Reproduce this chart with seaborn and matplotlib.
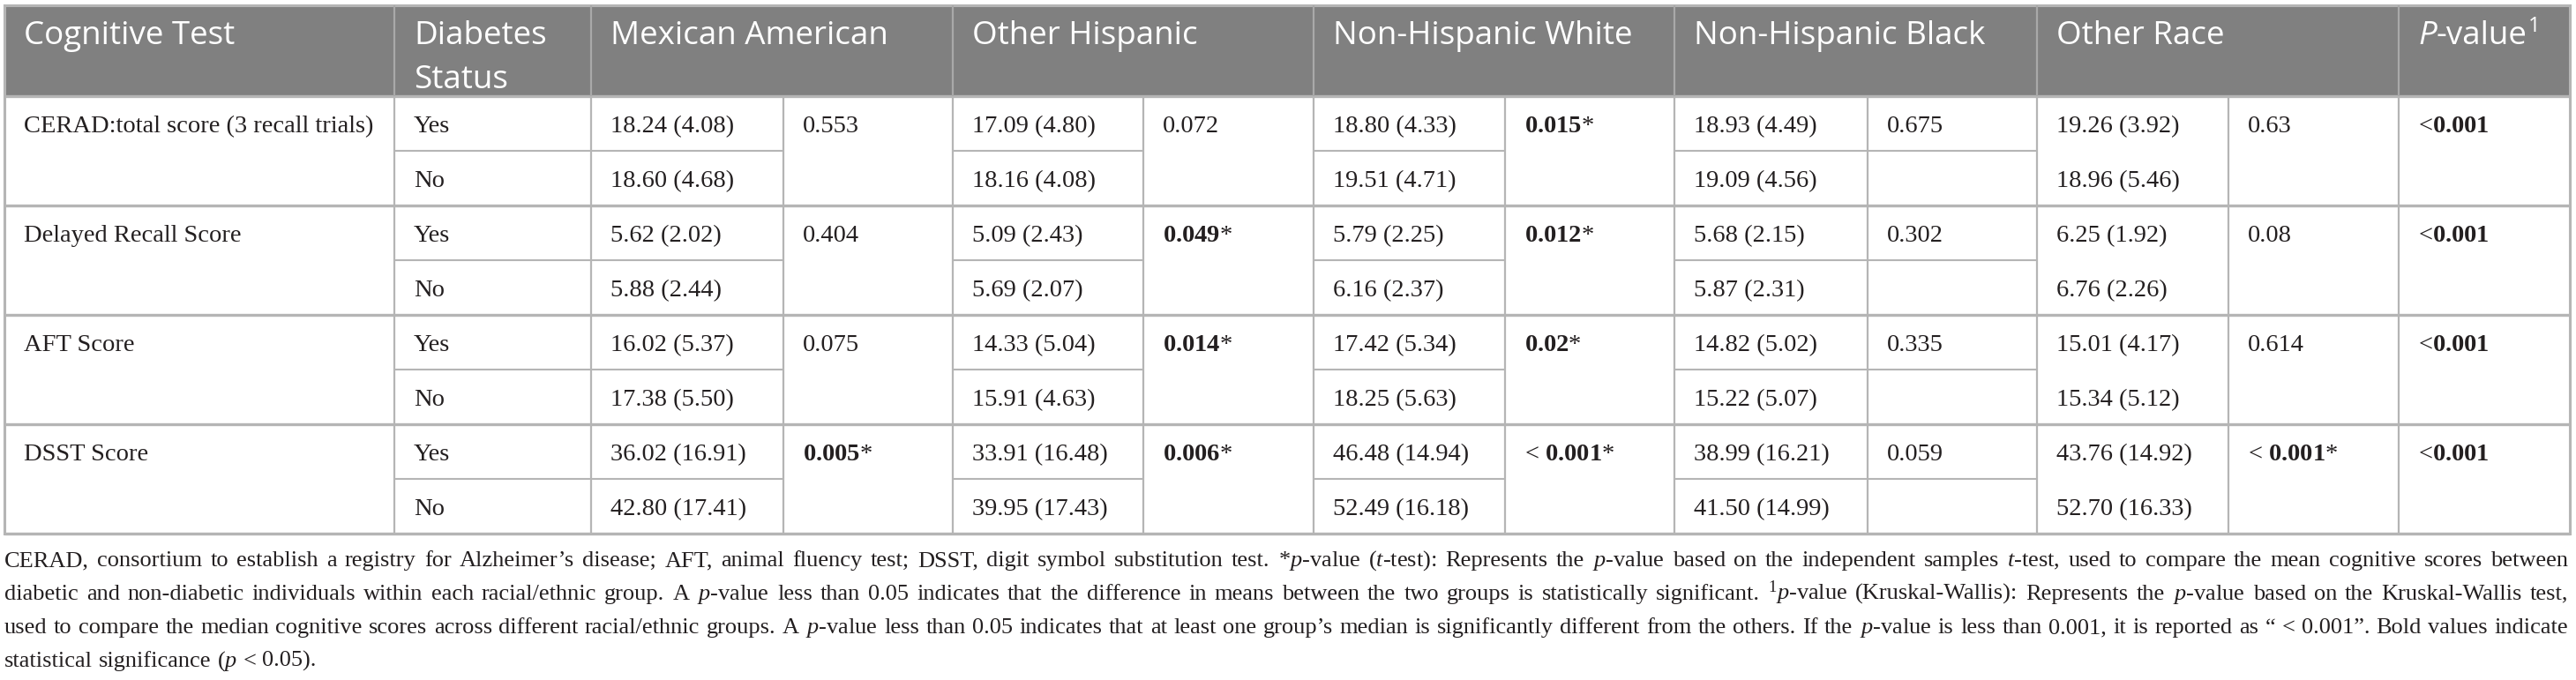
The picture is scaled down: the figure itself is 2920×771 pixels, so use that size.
import matplotlib
matplotlib.use("Agg")
import matplotlib.pyplot as plt
import seaborn as sns
from matplotlib.patches import Rectangle

# ---- data ----
tests = ["CERAD:total score (3 recall trials)", "Delayed Recall Score", "AFT Score", "DSST Score"]
status = ["Yes", "No"]
groups = ["Mexican American", "Other Hispanic", "Non-Hispanic White", "Non-Hispanic Black", "Other Race"]

ma_yes = [(18.24, 4.08), (5.62, 2.02), (16.02, 5.37), (36.02, 16.91)]
ma_no = [(18.60, 4.68), (5.88, 2.44), (17.38, 5.50), (42.80, 17.41)]
ma_p = ["0.553", "0.404", "0.075", "0.005"]

oh_yes = [(17.09, 4.80), (5.09, 2.43), (14.33, 5.04), (33.91, 16.48)]
oh_no = [(18.16, 4.08), (5.69, 2.07), (15.91, 4.63), (39.95, 17.43)]
oh_p = ["0.072", "0.049", "0.014", "0.006"]

nhw_yes = [(18.80, 4.33), (5.79, 2.25), (17.42, 5.34), (46.48, 14.94)]
nhw_no = [(19.51, 4.71), (6.16, 2.37), (18.25, 5.63), (52.49, 16.18)]
nhw_p = ["0.015", "0.012", "0.02", "< 0.001"]

nhb_yes = [(18.93, 4.49), (5.68, 2.15), (14.82, 5.02), (38.99, 16.21)]
nhb_no = [(19.09, 4.56), (5.87, 2.31), (15.22, 5.07), (41.50, 14.99)]
nhb_p = ["0.675", "0.302", "0.335", "0.059"]

or_yes = [(19.26, 3.92), (6.25, 1.92), (15.01, 4.17), (43.76, 14.92)]
or_no = [(18.96, 5.46), (6.76, 2.26), (15.34, 5.12), (52.70, 16.33)]
or_p = ["0.63", "0.08", "0.614", "< 0.001"]

kw_p = ["<0.001", "<0.001", "<0.001", "<0.001"]

footnote = [
    "CERAD, consortium to establish a registry for Alzheimer\u2019s disease; AFT, animal fluency test; DSST, digit symbol substitution test. "
    "*$\\mathit{p}$-value ($\\mathit{t}$-test): Represents the $\\mathit{p}$-value based on the independent samples $\\mathit{t}$-test, "
    "used to compare the mean cognitive scores between",
    "diabetic and non-diabetic individuals within each racial/ethnic group. A $\\mathit{p}$-value less than 0.05 indicates that the "
    "difference in means between the two groups is statistically significant. $^{1}\\mathit{p}$-value (Kruskal-Wallis): Represents "
    "the $\\mathit{p}$-value based on the Kruskal-Wallis test,",
    "used to compare the median cognitive scores across different racial/ethnic groups. A $\\mathit{p}$-value less than 0.05 indicates "
    "that at least one group\u2019s median is significantly different from the others. If the $\\mathit{p}$-value is less than 0.001, "
    "it is reported as \u201c < 0.001\u201d. Bold values indicate",
    "statistical significance ($\\mathit{p}$ < 0.05).",
]

# ---- style ----
sns.set_theme(style="white")
plt.rcParams["font.family"] = ["Liberation Serif", "DejaVu Serif"]
plt.rcParams["mathtext.fontset"] = "custom"
plt.rcParams["mathtext.rm"] = "Liberation Serif"
plt.rcParams["mathtext.it"] = "Liberation Serif:italic"
plt.rcParams["mathtext.bf"] = "Liberation Serif:bold"

W, H = 2920, 771
fig = plt.figure(figsize=(W / 100, H / 100), dpi=100)
ax = fig.add_axes([0, 0, 1, 1])
ax.set_xlim(0, W)
ax.set_ylim(H, 0)
ax.axis("off")
renderer = fig.canvas.get_renderer()

col_x = [5, 447, 670, 888, 1080, 1296, 1489, 1706, 1898, 2117, 2309, 2526, 2719, 2913]
head_top, head_bot, sub_h = 6, 109, 62
bottom = head_bot + 8 * sub_h
pad = 22
txt_col = "#231f20"
grid_col = "#b5b5b5"
head_font = "Open Sans"
head_size = 26.5
body_size = 20.5
foot_size = 19


def fmt_val(v):
    return f"{v[0]:.2f} ({v[1]:.2f})"


def fmt_p(s, star=True):
    if s.startswith("<"):
        prefix, num, sig = s[:-5], s[-5:], True
    else:
        prefix, num, sig = "", s, float(s) < 0.05
    if sig:
        return prefix + r"$\mathbf{" + num + "}$" + ("*" if star else "")
    return s


# header band
ax.add_patch(Rectangle((col_x[0], head_top), col_x[-1] - col_x[0], head_bot - head_top,
                       facecolor="#808080", edgecolor="none"))

header_cells = [(0, "Cognitive Test"), (1, "Diabetes\nStatus")]
for k, g in enumerate(groups):
    header_cells.append((2 + 2 * k, g))
for c, label in header_cells:
    for i, line in enumerate(label.split("\n")):
        ax.text(col_x[c] + pad, 50 + 50 * i, line, family=head_font, fontsize=head_size,
                color="white", va="baseline", ha="left")

# P-value^1 header in pieces
x0 = col_x[12] + pad
tp = ax.text(x0, 50, "P", family=head_font, style="italic", fontsize=head_size,
             color="white", va="baseline")
x0 += tp.get_window_extent(renderer).width
tv = ax.text(x0, 50, "-value", family=head_font, fontsize=head_size, color="white", va="baseline")
x0 += tv.get_window_extent(renderer).width + 1
ax.text(x0, 36, "1", family=head_font, fontsize=17, color="white", va="baseline")

# body
val_cols = [(ma_yes, ma_no, ma_p), (oh_yes, oh_no, oh_p), (nhw_yes, nhw_no, nhw_p),
            (nhb_yes, nhb_no, nhb_p), (or_yes, or_no, or_p)]
for r, test in enumerate(tests):
    top = head_bot + 2 * sub_h * r
    y_yes = top + 41
    y_no = top + sub_h + 41
    ax.text(col_x[0] + pad, y_yes, test, fontsize=body_size, color=txt_col, va="baseline")
    ax.text(col_x[1] + pad, y_yes, status[0], fontsize=body_size, color=txt_col, va="baseline")
    ax.text(col_x[1] + pad, y_no, status[1], fontsize=body_size, color=txt_col, va="baseline")
    for k, (yes, no, p) in enumerate(val_cols):
        cx = col_x[2 + 2 * k] + pad
        ax.text(cx, y_yes, fmt_val(yes[r]), fontsize=body_size, color=txt_col, va="baseline")
        ax.text(cx, y_no, fmt_val(no[r]), fontsize=body_size, color=txt_col, va="baseline")
        ax.text(col_x[3 + 2 * k] + pad, y_yes, fmt_p(p[r]), fontsize=body_size,
                color=txt_col, va="baseline")
    ax.text(col_x[12] + pad, y_yes, fmt_p(kw_p[r], star=False), fontsize=body_size,
            color=txt_col, va="baseline")

# grid lines
line_kw = dict(color=grid_col, solid_capstyle="butt")
split_cols = [1, 2, 4, 6, 8, 9]
for r in range(4):
    mid = head_bot + 2 * sub_h * r + sub_h
    for c in split_cols:
        ax.plot([col_x[c], col_x[c + 1]], [mid, mid], lw=1.5, **line_kw)
for r in range(0, 5):
    y = head_bot + 2 * sub_h * r
    ax.plot([col_x[0], col_x[-1]], [y, y], lw=2.4, **line_kw)
for x in col_x[1:-1]:
    ax.plot([x, x], [head_bot, bottom], lw=1.6, **line_kw)
for c in [1, 2, 4, 6, 8, 10, 12]:
    ax.plot([col_x[c], col_x[c]], [head_top, head_bot], lw=1.6, color="#a9a9a9",
            solid_capstyle="butt")
ax.add_patch(Rectangle((col_x[0], head_top), col_x[-1] - col_x[0], bottom - head_top,
                       facecolor="none", edgecolor=grid_col, lw=2.2))

# footnote, justified
foot_base = [642, 680, 718, 756]
left, right = 5, 2911
for i, line in enumerate(footnote):
    words = line.split(" ")
    objs = [ax.text(0, foot_base[i], w, fontsize=foot_size, color=txt_col, va="baseline")
            for w in words]
    widths = [o.get_window_extent(renderer).width for o in objs]
    if i < len(footnote) - 1:
        gap = (right - left - sum(widths)) / (len(words) - 1)
    else:
        gap = foot_size * 100 / 72 * 0.25
    x = left
    for o, w in zip(objs, widths):
        o.set_x(x)
        x += w + gap

fig.savefig("out.png", dpi=100)
